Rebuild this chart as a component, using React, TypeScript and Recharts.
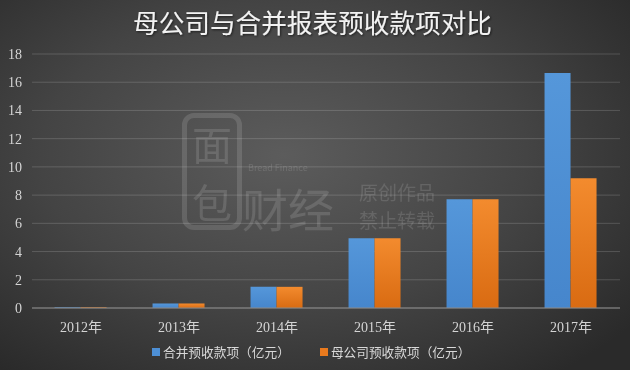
import React from 'react';
import { BarChart, Bar, XAxis, YAxis, CartesianGrid, Legend } from 'recharts';

const years = ['2012年', '2013年', '2014年', '2015年', '2016年', '2017年'];
const consolidated = [0.05, 0.32, 1.5, 4.95, 7.7, 16.65];
const parentCo = [0.05, 0.32, 1.5, 4.95, 7.7, 9.2];
const yTicks = [0, 2, 4, 6, 8, 10, 12, 14, 16, 18];

const seriesNames = ['合并预收款项（亿元）', '母公司预收款项（亿元）'];

const data = years.map((year, i) => ({
  year,
  consolidated: consolidated[i],
  parentCo: parentCo[i],
}));

const serif = '"Liberation Serif", "Noto Sans CJK SC", serif';
const sans = '"Noto Sans CJK SC", "Noto Sans", sans-serif';

const LegendContent = () => (
  <div
    style={{
      display: 'flex',
      justifyContent: 'flex-start',
      gap: 30,
      paddingLeft: 152,
      paddingTop: 4,
      fontFamily: sans,
      fontSize: 12.7,
      color: '#d8d8d8',
      lineHeight: '20px',
    }}
  >
    {seriesNames.map((name, i) => (
      <span key={name} style={{ display: 'flex', alignItems: 'center' }}>
        <span
          style={{
            width: 8,
            height: 8,
            marginRight: 3,
            background: i === 0 ? '#4d8fd5' : '#e97a1e',
            display: 'inline-block',
          }}
        />
        {name}
      </span>
    ))}
  </div>
);

const watermark = 'rgba(255,255,255,0.13)';

// faint text of the "面包财经" watermark, centred on (left, centreY)
const wm = (left: number, centreY: number, size: number) => ({
  position: 'absolute' as const,
  left,
  top: centreY - size / 2,
  fontFamily: sans,
  fontSize: size,
  lineHeight: `${size}px`,
  color: watermark,
  whiteSpace: 'nowrap' as const,
});

export default function App() {
  return (
    <div
      style={{
        position: 'fixed',
        left: 0,
        top: 0,
        width: 630,
        height: 370,
        overflow: 'hidden',
        background:
          'radial-gradient(ellipse 70% 75% at 45% 42%, #5c5c5c 0%, #444 55%, #2a2a2a 100%)',
      }}
    >
      {/* title */}
      <svg width={630} height={44} style={{ position: 'absolute', left: 0, top: 0 }}>
        <defs>
          <filter id="titleShadow" x="-5%" y="-20%" width="110%" height="140%">
            <feDropShadow dx="1" dy="1" stdDeviation="1" floodColor="#000" floodOpacity="0.6" />
          </filter>
        </defs>
        <text
          x={133}
          y={33}
          textLength={359}
          lengthAdjust="spacingAndGlyphs"
          fontFamily={sans}
          fontSize={26}
          fill="#f2f2f2"
          filter="url(#titleShadow)"
        >
          母公司与合并报表预收款项对比
        </text>
      </svg>

      {/* watermark */}
      <div
        style={{
          position: 'absolute',
          left: 182,
          top: 113,
          width: 60,
          height: 117,
          border: `5px solid ${watermark}`,
          borderRadius: 12,
          boxSizing: 'border-box',
        }}
      />
      <div style={wm(192, 143, 40)}>面</div>
      <div style={wm(192, 201, 40)}>包</div>
      <div style={wm(248, 167, 9)}>Bread Finance</div>
      <div style={wm(242, 207, 46)}>财经</div>
      <div style={wm(359, 191, 19)}>原创作品</div>
      <div style={wm(359, 219, 19)}>禁止转载</div>

      <BarChart
        width={630}
        height={370}
        data={data}
        margin={{ top: 54, right: 10, left: 0, bottom: 0 }}
        barCategoryGap="23%"
        barGap={0}
        style={{ position: 'absolute', left: 0, top: 0 }}
      >
        <defs>
          <linearGradient id="gBlue" x1="0" y1="0" x2="0" y2="1">
            <stop offset="0%" stopColor="#5597da" />
            <stop offset="100%" stopColor="#4686cc" />
          </linearGradient>
          <linearGradient id="gOrange" x1="0" y1="0" x2="0" y2="1">
            <stop offset="0%" stopColor="#f38b2e" />
            <stop offset="100%" stopColor="#d96b12" />
          </linearGradient>
        </defs>
        <CartesianGrid vertical={false} stroke="rgba(255,255,255,0.16)" />
        <XAxis
          dataKey="year"
          height={30}
          axisLine={{ stroke: '#8a8a8a' }}
          tickLine={false}
          tickMargin={8}
          tick={{ fill: '#d4d4d4', fontSize: 14, fontFamily: serif }}
        />
        <YAxis
          width={32}
          domain={[0, 18]}
          ticks={yTicks}
          axisLine={false}
          tickLine={false}
          tickSize={0}
          tickMargin={10}
          tick={{ fill: '#d4d4d4', fontSize: 14, fontFamily: serif }}
        />
        <Legend verticalAlign="bottom" height={32} content={<LegendContent />} />
        <Bar dataKey="consolidated" name={seriesNames[0]} fill="url(#gBlue)" isAnimationActive={false} />
        <Bar dataKey="parentCo" name={seriesNames[1]} fill="url(#gOrange)" isAnimationActive={false} />
      </BarChart>
    </div>
  );
}
